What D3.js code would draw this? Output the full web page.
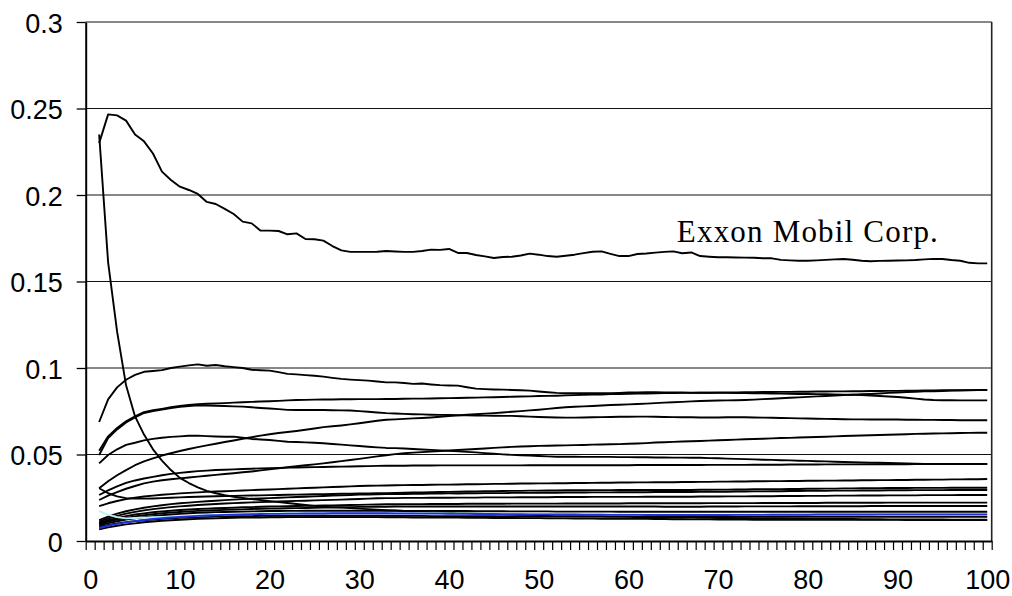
<!DOCTYPE html>
<html><head><meta charset="utf-8">
<script src="https://cdn.jsdelivr.net/npm/d3@7"></script>
<style>body{margin:0;background:#fff} svg{display:block}</style>
</head><body>
<svg id="chart" width="1012" height="596"></svg>
<script>
const categories = d3.range(1, 101);
const xTickLabels = [0,10,20,30,40,50,60,70,80,90,100];
const yTickValues = [0,0.05,0.1,0.15,0.2,0.25,0.3];
const yTickLabels = ["0","0.05","0.1","0.15","0.2","0.25","0.3"];

const exxon = [0.2300,0.2466,0.2460,0.2430,0.2350,0.2310,0.2240,0.2135,0.2087,0.2048,
 0.2029,0.2006,0.1960,0.1948,0.1920,0.1890,0.1846,0.1836,0.1794,0.1794,
 0.1792,0.1773,0.1778,0.1746,0.1744,0.1736,0.1705,0.1680,0.1671,0.1671,
 0.1671,0.1672,0.1676,0.1673,0.1671,0.1671,0.1676,0.1684,0.1683,0.1688,
 0.1665,0.1665,0.1653,0.1645,0.1636,0.1642,0.1643,0.1650,0.1661,0.1655,
 0.1647,0.1643,0.1649,0.1655,0.1664,0.1672,0.1674,0.1660,0.1647,0.1647,
 0.1659,0.1662,0.1667,0.1671,0.1674,0.1663,0.1668,0.1647,0.1643,0.1640,
 0.1640,0.1639,0.1638,0.1637,0.1634,0.1634,0.1625,0.1622,0.1620,0.1620,
 0.1622,0.1625,0.1628,0.1630,0.1626,0.1620,0.1617,0.1619,0.1620,0.1621,
 0.1622,0.1624,0.1628,0.1631,0.1630,0.1624,0.1620,0.1608,0.1605,0.1605];

const fallingSeries = [0.235,0.161,0.121,0.090,0.072,0.0615,0.053,0.0465,0.041,0.0365,
 0.0335,0.031,0.029,0.0276,0.0265,0.0256,0.0249,0.0242,0.0236,0.023,
 0.0225,0.022,0.0214,0.0208,0.0203,0.0199,0.0196,0.0193,0.019,0.0187,
 0.0184,0.0181,0.0178,0.0176,0.0173,0.0171,0.0169,0.0167,0.0165,0.0163,
 0.0161,0.016,0.0158,0.0157,0.0156,0.0154,0.0153,0.0152,0.0151,0.015,
 0.0149,0.0148,0.0147,0.0146,0.0145,0.0144,0.0143,0.0142,0.0141,0.014,
 0.0139,0.0139,0.0138,0.0137,0.0136,0.0136,0.0135,0.0134,0.0134,0.0133,
 0.0133,0.0132,0.0132,0.0131,0.0131,0.013,0.013,0.0129,0.0129,0.0128,
 0.0128,0.0128,0.0127,0.0127,0.0127,0.0126,0.0126,0.0126,0.0125,0.0125,
 0.0125,0.0124,0.0124,0.0124,0.0124,0.0123,0.0123,0.0123,0.0123,0.0123];

const seriesA = [0.0688,0.0819,0.0888,0.0932,0.0960,0.0978,0.0983,0.0988,0.1000,0.1008,
 0.1015,0.1021,0.1013,0.1017,0.1010,0.1005,0.1000,0.0990,0.0987,0.0985,
 0.0976,0.0966,0.0963,0.0959,0.0955,0.0950,0.0943,0.0937,0.0933,0.0930,
 0.0927,0.0922,0.0917,0.0917,0.0913,0.0908,0.0910,0.0905,0.0901,0.0899,
 0.0898,0.0889,0.0881,0.0878,0.0876,0.0875,0.0873,0.0871,0.0869,0.0864,
 0.0860,0.0856,0.0854,0.0854,0.0854,0.0854,0.0855,0.0855,0.0856,0.0858,
 0.0859,0.0860,0.0860,0.0859,0.0858,0.0858,0.0857,0.0857,0.0857,0.0856,
 0.0856,0.0855,0.0855,0.0854,0.0854,0.0853,0.0852,0.0851,0.0850,0.0850,
 0.0849,0.0848,0.0847,0.0846,0.0845,0.0843,0.0841,0.0838,0.0835,0.0832,
 0.0828,0.0823,0.0818,0.0815,0.0814,0.0814,0.0813,0.0813,0.0813,0.0813];

const seriesC1 = [0.0522,0.0605,0.0653,0.0692,0.0720,0.0745,0.0756,0.0764,0.0773,0.0780,
 0.0786,0.0791,0.0793,0.0795,0.0797,0.0800,0.0802,0.0804,0.0806,0.0808,
 0.0810,0.0813,0.0815,0.0816,0.0817,0.0818,0.0818,0.0819,0.0819,0.0820,
 0.0820,0.0820,0.0821,0.0821,0.0822,0.0823,0.0823,0.0824,0.0825,0.0826,
 0.0827,0.0828,0.0829,0.0830,0.0831,0.0832,0.0834,0.0835,0.0836,0.0838,
 0.0839,0.0840,0.0842,0.0843,0.0845,0.0846,0.0847,0.0849,0.0850,0.0851,
 0.0852,0.0853,0.0854,0.0855,0.0855,0.0856,0.0856,0.0857,0.0857,0.0858,
 0.0858,0.0859,0.0860,0.0860,0.0861,0.0861,0.0862,0.0862,0.0863,0.0863,
 0.0864,0.0864,0.0865,0.0865,0.0866,0.0866,0.0867,0.0867,0.0868,0.0868,
 0.0869,0.0869,0.0870,0.0870,0.0871,0.0871,0.0872,0.0872,0.0873,0.0873];

const seriesC2 = [0.0497,0.0595,0.0645,0.0685,0.0715,0.0740,0.0751,0.0760,0.0768,0.0775,
 0.0780,0.0784,0.0783,0.0781,0.0780,0.0778,0.0777,0.0773,0.0769,0.0766,
 0.0762,0.0758,0.0757,0.0757,0.0757,0.0757,0.0756,0.0755,0.0754,0.0751,
 0.0747,0.0743,0.0739,0.0737,0.0735,0.0733,0.0732,0.0730,0.0729,0.0728,
 0.0727,0.0726,0.0725,0.0725,0.0724,0.0723,0.0723,0.0721,0.0719,0.0717,
 0.0715,0.0714,0.0713,0.0713,0.0714,0.0715,0.0716,0.0717,0.0718,0.0718,
 0.0719,0.0719,0.0718,0.0717,0.0716,0.0715,0.0715,0.0714,0.0714,0.0714,
 0.0715,0.0715,0.0715,0.0714,0.0713,0.0712,0.0711,0.0710,0.0709,0.0708,
 0.0707,0.0706,0.0705,0.0704,0.0703,0.0703,0.0702,0.0702,0.0702,0.0702,
 0.0701,0.0701,0.0700,0.0700,0.0699,0.0699,0.0698,0.0698,0.0698,0.0698];

const seriesD = [0.0449,0.0497,0.0530,0.0556,0.0568,0.0582,0.0590,0.0597,0.0602,0.0605,
 0.0608,0.0609,0.0606,0.0604,0.0603,0.0603,0.0597,0.0590,0.0587,0.0584,
 0.0579,0.0574,0.0572,0.0570,0.0568,0.0565,0.0561,0.0557,0.0553,0.0549,
 0.0545,0.0541,0.0538,0.0537,0.0535,0.0532,0.0529,0.0527,0.0524,0.0521,
 0.0518,0.0515,0.0512,0.0508,0.0505,0.0501,0.0498,0.0496,0.0494,0.0491,
 0.0489,0.0487,0.0487,0.0487,0.0486,0.0486,0.0486,0.0486,0.0485,0.0485,
 0.0484,0.0484,0.0483,0.0483,0.0482,0.0482,0.0481,0.0481,0.0479,0.0478,
 0.0476,0.0475,0.0473,0.0472,0.0470,0.0469,0.0467,0.0466,0.0464,0.0463,
 0.0461,0.0460,0.0458,0.0457,0.0455,0.0454,0.0453,0.0452,0.0451,0.0449,
 0.0448,0.0447,0.0446,0.0446,0.0445,0.0445,0.0445,0.0445,0.0445,0.0445];

const seriesE = [0.0305,0.0345,0.0380,0.0410,0.0438,0.0460,0.0478,0.0494,0.0507,0.0520,
 0.0532,0.0543,0.0553,0.0562,0.0572,0.0581,0.0591,0.0600,0.0609,0.0617,
 0.0624,0.0630,0.0636,0.0643,0.0650,0.0658,0.0663,0.0668,0.0674,0.0681,
 0.0688,0.0695,0.0701,0.0703,0.0706,0.0709,0.0711,0.0714,0.0718,0.0722,
 0.0726,0.0730,0.0733,0.0736,0.0739,0.0743,0.0747,0.0751,0.0755,0.0759,
 0.0764,0.0769,0.0773,0.0776,0.0778,0.0780,0.0783,0.0786,0.0788,0.0790,
 0.0792,0.0794,0.0797,0.0800,0.0802,0.0804,0.0807,0.0809,0.0811,0.0812,
 0.0813,0.0814,0.0815,0.0817,0.0820,0.0822,0.0825,0.0828,0.0830,0.0833,
 0.0836,0.0838,0.0841,0.0843,0.0845,0.0848,0.0850,0.0853,0.0856,0.0858,
 0.0861,0.0863,0.0865,0.0866,0.0867,0.0869,0.0870,0.0871,0.0872,0.0873];

const seriesF = [0.0237,0.0262,0.0283,0.0302,0.0318,0.0333,0.0343,0.0351,0.0357,0.0362,
 0.0367,0.0372,0.0377,0.0382,0.0387,0.0392,0.0397,0.0402,0.0408,0.0414,
 0.0420,0.0426,0.0432,0.0438,0.0443,0.0449,0.0455,0.0462,0.0468,0.0475,
 0.0482,0.0489,0.0496,0.0502,0.0507,0.0511,0.0514,0.0517,0.0520,0.0523,
 0.0526,0.0529,0.0532,0.0535,0.0538,0.0541,0.0544,0.0546,0.0548,0.0550,
 0.0551,0.0552,0.0553,0.0554,0.0555,0.0557,0.0558,0.0559,0.0560,0.0562,
 0.0564,0.0566,0.0569,0.0571,0.0573,0.0575,0.0577,0.0578,0.0580,0.0582,
 0.0584,0.0586,0.0588,0.0590,0.0591,0.0593,0.0595,0.0596,0.0598,0.0600,
 0.0601,0.0603,0.0605,0.0607,0.0608,0.0610,0.0611,0.0613,0.0614,0.0616,
 0.0617,0.0619,0.0620,0.0621,0.0622,0.0623,0.0624,0.0625,0.0626,0.0626];

const seriesG = [0.0266,0.0293,0.0316,0.0336,0.0350,0.0361,0.0371,0.0380,0.0388,0.0394,
 0.0399,0.0404,0.0407,0.0410,0.0412,0.0414,0.0416,0.0418,0.0420,0.0421,
 0.0422,0.0424,0.0425,0.0426,0.0427,0.0428,0.0429,0.0430,0.0431,0.0432,
 0.0433,0.0434,0.0435,0.0435,0.0435,0.0436,0.0436,0.0436,0.0437,0.0437,
 0.0437,0.0437,0.0437,0.0437,0.0437,0.0437,0.0437,0.0437,0.0438,0.0438,
 0.0438,0.0438,0.0438,0.0438,0.0438,0.0438,0.0438,0.0438,0.0438,0.0438,
 0.0439,0.0439,0.0439,0.0439,0.0439,0.0439,0.0439,0.0439,0.0440,0.0440,
 0.0440,0.0440,0.0440,0.0441,0.0441,0.0441,0.0441,0.0442,0.0442,0.0442,
 0.0442,0.0443,0.0443,0.0443,0.0443,0.0443,0.0444,0.0444,0.0444,0.0444,
 0.0444,0.0445,0.0445,0.0445,0.0445,0.0445,0.0445,0.0445,0.0445,0.0445];

const seriesH = [0.0305,0.0276,0.0258,0.0248,0.0245,0.0245,0.0246,0.0248,0.0250,0.0252,
 0.0254,0.0256,0.0257,0.0259,0.0260,0.0261,0.0262,0.0263,0.0264,0.0265,
 0.0266,0.0267,0.0268,0.0269,0.0270,0.0271,0.0272,0.0273,0.0274,0.0275,
 0.0275,0.0276,0.0277,0.0278,0.0279,0.0280,0.0281,0.0282,0.0283,0.0284,
 0.0285,0.0286,0.0287,0.0288,0.0288,0.0289,0.0290,0.0290,0.0291,0.0291,
 0.0292,0.0292,0.0293,0.0293,0.0293,0.0294,0.0294,0.0294,0.0295,0.0295,
 0.0295,0.0295,0.0295,0.0295,0.0295,0.0295,0.0295,0.0296,0.0296,0.0297,
 0.0297,0.0298,0.0298,0.0299,0.0299,0.0300,0.0300,0.0301,0.0301,0.0302,
 0.0302,0.0303,0.0303,0.0304,0.0304,0.0305,0.0305,0.0305,0.0306,0.0306,
 0.0306,0.0307,0.0307,0.0307,0.0307,0.0308,0.0308,0.0308,0.0308,0.0308];

const seriesL1 = [0.0202,0.0218,0.0231,0.0242,0.0250,0.0257,0.0262,0.0267,0.0271,0.0275,
 0.0278,0.0281,0.0284,0.0286,0.0288,0.0290,0.0292,0.0294,0.0296,0.0298,
 0.0300,0.0302,0.0304,0.0306,0.0308,0.0310,0.0312,0.0314,0.0316,0.0318,
 0.0319,0.0320,0.0321,0.0322,0.0323,0.0324,0.0324,0.0325,0.0326,0.0326,
 0.0327,0.0328,0.0328,0.0329,0.0330,0.0330,0.0331,0.0332,0.0332,0.0333,
 0.0333,0.0334,0.0334,0.0335,0.0335,0.0336,0.0337,0.0337,0.0338,0.0338,
 0.0339,0.0339,0.0340,0.0340,0.0340,0.0341,0.0341,0.0342,0.0342,0.0343,
 0.0343,0.0344,0.0344,0.0345,0.0345,0.0346,0.0346,0.0347,0.0347,0.0348,
 0.0348,0.0349,0.0349,0.0350,0.0350,0.0351,0.0351,0.0352,0.0352,0.0353,
 0.0353,0.0354,0.0354,0.0355,0.0355,0.0356,0.0356,0.0357,0.0357,0.0358];

const seriesL3 = [0.0121,0.0141,0.0158,0.0172,0.0183,0.0192,0.0200,0.0207,0.0213,0.0218,
 0.0222,0.0226,0.0230,0.0233,0.0236,0.0239,0.0242,0.0244,0.0246,0.0248,
 0.0250,0.0252,0.0254,0.0256,0.0258,0.0260,0.0262,0.0264,0.0266,0.0268,
 0.0269,0.0270,0.0271,0.0272,0.0272,0.0273,0.0273,0.0274,0.0274,0.0275,
 0.0275,0.0276,0.0276,0.0277,0.0277,0.0277,0.0278,0.0278,0.0278,0.0279,
 0.0279,0.0279,0.0280,0.0280,0.0280,0.0281,0.0281,0.0281,0.0282,0.0282,
 0.0282,0.0282,0.0283,0.0283,0.0283,0.0283,0.0283,0.0284,0.0284,0.0285,
 0.0285,0.0286,0.0286,0.0287,0.0287,0.0288,0.0288,0.0289,0.0289,0.0290,
 0.0290,0.0290,0.0291,0.0291,0.0291,0.0292,0.0292,0.0292,0.0293,0.0293,
 0.0293,0.0294,0.0294,0.0294,0.0294,0.0295,0.0295,0.0295,0.0295,0.0295];

const seriesL4 = [0.0112,0.0130,0.0145,0.0158,0.0168,0.0177,0.0184,0.0190,0.0196,0.0200,
 0.0204,0.0208,0.0211,0.0214,0.0217,0.0219,0.0221,0.0223,0.0225,0.0227,
 0.0229,0.0230,0.0232,0.0233,0.0235,0.0236,0.0238,0.0239,0.0241,0.0243,
 0.0245,0.0247,0.0248,0.0248,0.0249,0.0249,0.0249,0.0250,0.0250,0.0250,
 0.0251,0.0251,0.0251,0.0252,0.0252,0.0252,0.0252,0.0253,0.0253,0.0253,
 0.0253,0.0254,0.0254,0.0254,0.0254,0.0255,0.0255,0.0255,0.0255,0.0255,
 0.0255,0.0256,0.0256,0.0256,0.0256,0.0256,0.0256,0.0257,0.0257,0.0257,
 0.0258,0.0258,0.0258,0.0259,0.0259,0.0259,0.0260,0.0260,0.0260,0.0261,
 0.0261,0.0261,0.0262,0.0262,0.0262,0.0263,0.0263,0.0263,0.0264,0.0264,
 0.0264,0.0264,0.0265,0.0265,0.0265,0.0265,0.0266,0.0266,0.0266,0.0266];

const seriesL5 = [0.0104,0.0120,0.0133,0.0144,0.0153,0.0160,0.0166,0.0171,0.0175,0.0179,
 0.0182,0.0185,0.0187,0.0189,0.0191,0.0193,0.0195,0.0196,0.0198,0.0199,
 0.0200,0.0201,0.0202,0.0203,0.0204,0.0205,0.0206,0.0207,0.0208,0.0209,
 0.0210,0.0211,0.0212,0.0212,0.0213,0.0213,0.0213,0.0214,0.0214,0.0214,
 0.0214,0.0215,0.0215,0.0215,0.0215,0.0215,0.0216,0.0216,0.0216,0.0216,
 0.0216,0.0216,0.0217,0.0217,0.0217,0.0217,0.0217,0.0217,0.0217,0.0218,
 0.0218,0.0218,0.0218,0.0218,0.0218,0.0218,0.0218,0.0218,0.0219,0.0219,
 0.0219,0.0219,0.0219,0.0219,0.0220,0.0220,0.0220,0.0220,0.0220,0.0220,
 0.0220,0.0221,0.0221,0.0221,0.0221,0.0221,0.0221,0.0221,0.0222,0.0222,
 0.0222,0.0222,0.0222,0.0222,0.0222,0.0222,0.0222,0.0222,0.0222,0.0222];

const seriesL6 = [0.0097,0.0112,0.0124,0.0134,0.0142,0.0149,0.0155,0.0160,0.0164,0.0168,
 0.0171,0.0174,0.0176,0.0178,0.0180,0.0182,0.0183,0.0185,0.0186,0.0187,
 0.0188,0.0189,0.0190,0.0191,0.0192,0.0193,0.0194,0.0195,0.0196,0.0197,
 0.0197,0.0198,0.0198,0.0199,0.0199,0.0199,0.0199,0.0199,0.0199,0.0199,
 0.0199,0.0199,0.0199,0.0199,0.0199,0.0199,0.0199,0.0199,0.0199,0.0199,
 0.0199,0.0199,0.0199,0.0199,0.0199,0.0199,0.0199,0.0199,0.0199,0.0199,
 0.0199,0.0199,0.0199,0.0198,0.0198,0.0198,0.0198,0.0198,0.0199,0.0199,
 0.0199,0.0199,0.0200,0.0200,0.0200,0.0200,0.0200,0.0200,0.0201,0.0201,
 0.0201,0.0201,0.0201,0.0201,0.0201,0.0201,0.0202,0.0202,0.0202,0.0202,
 0.0202,0.0202,0.0202,0.0202,0.0202,0.0202,0.0202,0.0202,0.0202,0.0202];

const seriesL7 = [0.0090,0.0103,0.0114,0.0124,0.0131,0.0138,0.0144,0.0149,0.0153,0.0157,
 0.0160,0.0163,0.0165,0.0167,0.0168,0.0169,0.0170,0.0171,0.0172,0.0173,
 0.0173,0.0174,0.0174,0.0175,0.0175,0.0175,0.0175,0.0175,0.0175,0.0175,
 0.0175,0.0175,0.0175,0.0175,0.0174,0.0174,0.0174,0.0174,0.0173,0.0173,
 0.0173,0.0173,0.0172,0.0172,0.0172,0.0172,0.0171,0.0171,0.0171,0.0171,
 0.0171,0.0170,0.0170,0.0170,0.0170,0.0170,0.0170,0.0170,0.0169,0.0169,
 0.0169,0.0169,0.0169,0.0169,0.0169,0.0169,0.0169,0.0169,0.0169,0.0169,
 0.0169,0.0169,0.0169,0.0169,0.0169,0.0169,0.0169,0.0169,0.0169,0.0169,
 0.0169,0.0169,0.0169,0.0169,0.0169,0.0169,0.0169,0.0169,0.0169,0.0169,
 0.0169,0.0169,0.0169,0.0169,0.0169,0.0169,0.0169,0.0169,0.0169,0.0169];

const seriesL8 = [0.0083,0.0093,0.0102,0.0109,0.0115,0.0120,0.0124,0.0128,0.0131,0.0134,
 0.0136,0.0138,0.0140,0.0141,0.0142,0.0143,0.0144,0.0144,0.0145,0.0145,
 0.0146,0.0146,0.0146,0.0146,0.0146,0.0146,0.0146,0.0146,0.0146,0.0146,
 0.0146,0.0146,0.0146,0.0145,0.0145,0.0145,0.0145,0.0144,0.0144,0.0144,
 0.0144,0.0143,0.0143,0.0143,0.0143,0.0142,0.0142,0.0142,0.0142,0.0142,
 0.0141,0.0141,0.0141,0.0141,0.0141,0.0141,0.0141,0.0141,0.0141,0.0141,
 0.0140,0.0140,0.0140,0.0140,0.0140,0.0140,0.0140,0.0140,0.0140,0.0140,
 0.0140,0.0140,0.0140,0.0140,0.0140,0.0140,0.0140,0.0140,0.0140,0.0140,
 0.0140,0.0140,0.0140,0.0140,0.0140,0.0140,0.0140,0.0140,0.0140,0.0140,
 0.0140,0.0140,0.0140,0.0140,0.0140,0.0140,0.0140,0.0140,0.0140,0.0140];

const seriesL9 = [0.0068,0.0079,0.0088,0.0096,0.0102,0.0108,0.0113,0.0117,0.0120,0.0123,
 0.0126,0.0128,0.0130,0.0131,0.0133,0.0134,0.0135,0.0136,0.0136,0.0137,
 0.0137,0.0138,0.0138,0.0138,0.0138,0.0138,0.0138,0.0138,0.0138,0.0138,
 0.0138,0.0138,0.0137,0.0137,0.0137,0.0136,0.0136,0.0136,0.0135,0.0135,
 0.0135,0.0134,0.0134,0.0134,0.0133,0.0133,0.0133,0.0132,0.0132,0.0132,
 0.0131,0.0131,0.0131,0.0130,0.0130,0.0130,0.0129,0.0129,0.0129,0.0128,
 0.0128,0.0128,0.0127,0.0127,0.0126,0.0126,0.0125,0.0125,0.0125,0.0124,
 0.0124,0.0124,0.0124,0.0123,0.0123,0.0123,0.0123,0.0123,0.0122,0.0122,
 0.0122,0.0122,0.0122,0.0122,0.0122,0.0122,0.0122,0.0122,0.0122,0.0122,
 0.0121,0.0121,0.0121,0.0121,0.0121,0.0121,0.0121,0.0121,0.0121,0.0121];

const seriesCyan = [0.0173,0.0152,0.0138,0.0131,0.0133,0.0135,0.0137,0.0139,0.0141,0.0143,
 0.0144,0.0147,0.0149,0.0151,0.0153,0.0154,0.0156,0.0157,0.0158,0.0159,
 0.0159,0.0160,0.0160,0.0161,0.0161,0.0161,0.0162,0.0162,0.0162,0.0162,
 0.0162,0.0162,0.0162,0.0161,0.0161,0.0161,0.0160,0.0160,0.0160,0.0159,
 0.0159,0.0159,0.0158,0.0158,0.0158,0.0157,0.0157,0.0157,0.0156,0.0156,
 0.0156,0.0155,0.0155,0.0155,0.0154,0.0154,0.0154,0.0153,0.0153,0.0153,
 0.0153,0.0152,0.0152,0.0152,0.0152,0.0152,0.0152,0.0152,0.0152,0.0152,
 0.0152,0.0153,0.0153,0.0153,0.0153,0.0154,0.0154,0.0154,0.0154,0.0154,
 0.0155,0.0155,0.0155,0.0155,0.0155,0.0155,0.0155,0.0156,0.0156,0.0156,
 0.0156,0.0156,0.0156,0.0156,0.0156,0.0156,0.0156,0.0156,0.0156,0.0156];

const seriesBlue = [0.0075,0.0088,0.0099,0.0108,0.0115,0.0121,0.0127,0.0132,0.0136,0.0139,
 0.0142,0.0145,0.0147,0.0149,0.0151,0.0152,0.0154,0.0155,0.0156,0.0157,
 0.0157,0.0158,0.0158,0.0159,0.0159,0.0159,0.0160,0.0160,0.0160,0.0160,
 0.0160,0.0160,0.0160,0.0159,0.0159,0.0159,0.0158,0.0158,0.0158,0.0157,
 0.0157,0.0157,0.0156,0.0156,0.0156,0.0155,0.0155,0.0155,0.0154,0.0154,
 0.0154,0.0153,0.0153,0.0153,0.0152,0.0152,0.0152,0.0151,0.0151,0.0151,
 0.0151,0.0150,0.0150,0.0150,0.0150,0.0150,0.0150,0.0150,0.0150,0.0150,
 0.0150,0.0151,0.0151,0.0151,0.0151,0.0152,0.0152,0.0152,0.0152,0.0152,
 0.0153,0.0153,0.0153,0.0153,0.0153,0.0153,0.0153,0.0154,0.0154,0.0154,
 0.0154,0.0154,0.0154,0.0154,0.0154,0.0154,0.0154,0.0154,0.0154,0.0154];

const blackSeries = [exxon, fallingSeries, seriesA, seriesC1, seriesC2, seriesD, seriesE, seriesF,
  seriesG, seriesH, seriesL1, seriesL3, seriesL4, seriesL5, seriesL6, seriesL7, seriesL8, seriesL9];

const annotationText = "Exxon Mobil Corp.";
const annotationAt = [65.4, 0.1727];

// ---- layout ----
const plot = {left: 85.7, right: 991.7, top: 22, bottom: 541};
const svg = d3.select("#chart");
const x = d3.scaleLinear().domain([-0.5, 100.5]).range([plot.left, plot.right]);
const y = d3.scaleLinear().domain([0, 0.3]).range([plot.bottom, plot.top]);

// gridlines
svg.append("g").selectAll("line").data(yTickValues.filter(v => v > 0)).join("line")
  .attr("x1", plot.left).attr("x2", plot.right)
  .attr("y1", d => y(d)).attr("y2", d => y(d))
  .attr("stroke", "#111").attr("stroke-width", 1);

// right border
svg.append("line").attr("x1", plot.right).attr("x2", plot.right)
  .attr("y1", plot.top).attr("y2", plot.bottom)
  .attr("stroke", "#222").attr("stroke-width", 1.6);

// lines
const line = d3.line().x((d, i) => x(categories[i])).y(d => y(d));
const lines = svg.append("g").attr("fill", "none").attr("stroke-linejoin", "round");
lines.selectAll("path.blk").data(blackSeries).join("path").attr("class", "blk")
  .attr("d", line).attr("stroke", "#000").attr("stroke-width", 1.9);
lines.append("path").datum(seriesCyan).attr("d", line).attr("stroke", "#b8f4f4").attr("stroke-width", 1.9);
lines.append("path").datum(seriesBlue).attr("d", line).attr("stroke", "#1f2fe0").attr("stroke-width", 1.9);

// y axis
const fontFam = "'Liberation Sans', Arial, sans-serif";
const yAxis = d3.axisLeft(y).tickValues(yTickValues)
  .tickFormat((d, i) => yTickLabels[i]).tickSizeInner(9).tickSizeOuter(0).tickPadding(14);
const gy = svg.append("g").attr("transform", `translate(${plot.left},0)`).call(yAxis);
gy.select(".domain").attr("stroke", "#000").attr("stroke-width", 2);
gy.selectAll(".tick line").attr("stroke", "#000").attr("stroke-width", 1.3);
gy.selectAll("text").attr("font-family", fontFam).attr("font-size", 27).attr("fill", "#000").attr("dy", "0.38em");

// x axis ticks (category boundaries)
const boundaries = d3.range(-0.5, 101, 1);
const xAxis = d3.axisBottom(x).tickValues(boundaries).tickFormat("").tickSizeInner(9).tickSizeOuter(0);
const gx = svg.append("g").attr("transform", `translate(0,${plot.bottom})`).call(xAxis);
gx.select(".domain").attr("stroke", "#000").attr("stroke-width", 2);
gx.selectAll(".tick line").attr("stroke", "#000").attr("stroke-width", 1.2);

// x labels
const xLab = d3.axisBottom(x).tickValues(xTickLabels).tickSize(0).tickPadding(29);
const gxl = svg.append("g").attr("transform", `translate(0,${plot.bottom})`).call(xLab);
gxl.select(".domain").remove();
gxl.selectAll("text").attr("font-family", fontFam).attr("font-size", 27).attr("fill", "#000");

// annotation
svg.append("text").attr("x", x(annotationAt[0])).attr("y", y(annotationAt[1]))
  .attr("font-family", "'Liberation Serif', 'Times New Roman', serif").attr("font-size", 31)
  .attr("textLength", 261).attr("lengthAdjust", "spacing")
  .attr("fill", "#000").text(annotationText);
</script>
</body></html>
